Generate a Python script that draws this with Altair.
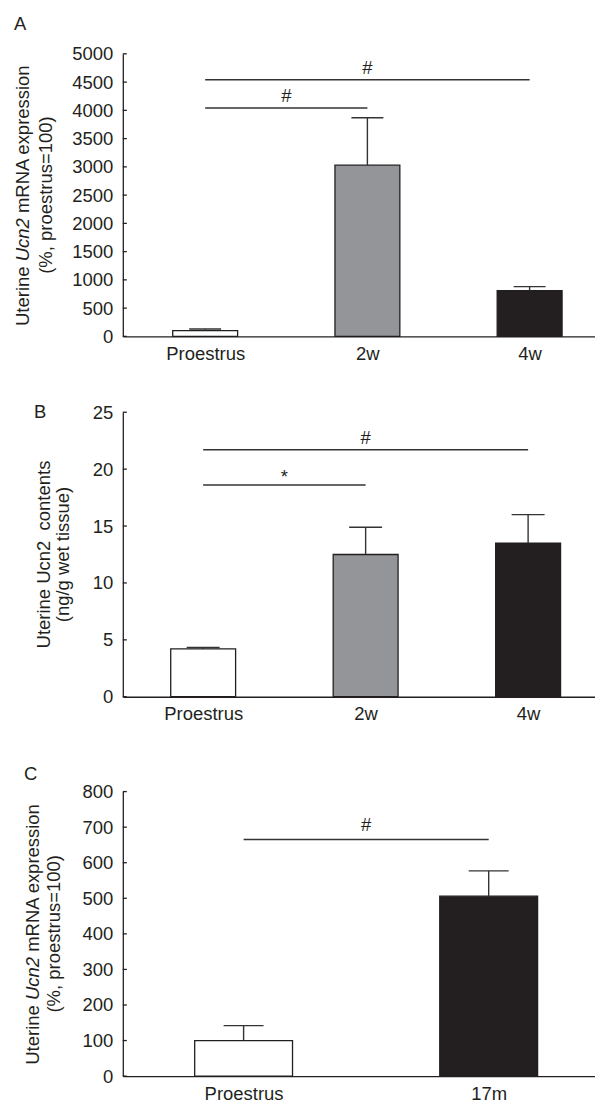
import json
import altair as alt
import pandas as pd

FONT = "Liberation Sans"
INK = "#231f20"
LINE = "#333333"
FS = 18.5
W = 473

# ---------------- data ----------------
# Panel A: uterine Ucn2 mRNA, proestrus vs 2w / 4w
a_categories = ["Proestrus", "2w", "4w"]
a_means = [100, 3030, 810]
a_sems = [30, 840, 70]
a_colors = ["#ffffff", "#939598", "#231f20"]
a_ticks = [0, 500, 1000, 1500, 2000, 2500, 3000, 3500, 4000, 4500, 5000]
a_sig_from = [0, 0]
a_sig_to = [1, 2]
a_sig_y = [4040, 4540]
a_sig_text = ["#", "#"]

# Panel B: uterine Ucn2 contents
b_categories = ["Proestrus", "2w", "4w"]
b_means = [4.2, 12.5, 13.5]
b_sems = [0.13, 2.4, 2.5]
b_colors = ["#ffffff", "#939598", "#231f20"]
b_ticks = [0, 5, 10, 15, 20, 25]
b_sig_from = [0, 0]
b_sig_to = [1, 2]
b_sig_y = [18.6, 21.7]
b_sig_text = ["*", "#"]

# Panel C: uterine Ucn2 mRNA, proestrus vs 17m
c_categories = ["Proestrus", "17m"]
c_means = [100, 506]
c_sems = [42, 71]
c_colors = ["#ffffff", "#231f20"]
c_ticks = [0, 100, 200, 300, 400, 500, 600, 700, 800]
c_sig_from = [0]
c_sig_to = [1]
c_sig_y = [665]
c_sig_text = ["#"]

# Arial / Liberation Sans advance widths (em) for title layout
EMW = {"U": 0.722, "t": 0.278, "e": 0.556, "r": 0.333, "i": 0.222, "n": 0.556,
       " ": 0.278, "c": 0.5, "2": 0.556, "m": 0.833, "R": 0.722, "N": 0.722,
       "A": 0.667, "x": 0.5, "p": 0.556, "o": 0.556, "s": 0.5}


def tw(s):
    return sum(EMW.get(ch, 0.556) for ch in s) * FS


def panel(cats, means, sems, colors, ticks, ymax, sig_from, sig_to, sig_y, sig_text,
          *, height, top_gap, xdom, bar_w, cap_w, letter, letter_pos,
          line1, line2, line1_x, line2_x, sig_dy):
    n = len(cats)
    bars_df = pd.DataFrame({
        "pos": list(range(n)), "cat": cats, "mean": means,
        "top": [m + s for m, s in zip(means, sems)], "color": colors,
    })
    sig_df = pd.DataFrame({"x1": sig_from, "x2": sig_to, "y": sig_y, "label": sig_text})
    sig_df["xm"] = (sig_df["x1"] + sig_df["x2"]) / 2
    tick_df = pd.DataFrame({"v": ticks})
    one = pd.DataFrame({"k": [0]})

    xs = alt.Scale(domain=xdom, nice=False, zero=False, padding=0)
    ys = alt.Scale(domain=[0, ymax], nice=False, zero=True, range=[height, top_gap])

    x_axis = alt.Axis(values=list(range(n)), labelExpr=json.dumps(cats) + "[datum.value]",
                      title=None, ticks=False, tickSize=0, grid=False, labelPadding=8,
                      domainColor=INK, domainWidth=1.3, labelFontSize=FS, labelColor=INK,
                      labelFont=FONT, labelFlush=False)
    y_axis = alt.Axis(values=ticks, format="d", title=None, ticks=False, tickSize=0,
                      grid=False, labelPadding=10, domainColor=INK, domainWidth=1.3,
                      labelFontSize=FS, labelColor=INK, labelFont=FONT)

    def X(f):
        return alt.X(f, scale=xs, axis=x_axis)

    def Y(f):
        return alt.Y(f, scale=ys, axis=y_axis)

    base = alt.Chart(bars_df)
    bars = base.mark_bar(orient="vertical", size=bar_w, stroke=INK, strokeWidth=1.3).encode(
        x=X("pos:Q"), y=Y("mean:Q"),
        color=alt.Color("color:N", scale=None),
    )
    err = base.mark_rule(color=LINE, strokeWidth=1.4).encode(
        x=X("pos:Q"), y=Y("mean:Q"), y2="top:Q",
    )
    cap = base.mark_rule(color=LINE, strokeWidth=1.4, xOffset=-cap_w / 2,
                         x2Offset=cap_w / 2).encode(
        x=X("pos:Q"), x2="pos:Q", y=Y("top:Q"),
    )
    tick_marks = alt.Chart(tick_df).mark_rule(color=INK, strokeWidth=1.3).encode(
        y=Y("v:Q"), x=alt.value(0), x2=alt.value(4),
    )
    sig_lines = alt.Chart(sig_df).mark_rule(color=LINE, strokeWidth=1.5).encode(
        x=X("x1:Q"), x2="x2:Q", y=Y("y:Q"),
    )
    sig_hash = alt.Chart(sig_df).transform_filter(alt.datum.label != "*").mark_text(
        dy=sig_dy, fontSize=FS, font=FONT, color=INK, baseline="alphabetic", align="center"
    ).encode(x=X("xm:Q"), y=Y("y:Q"), text="label:N")
    sig_star = alt.Chart(sig_df).transform_filter(alt.datum.label == "*").mark_text(
        dy=-2, fontSize=FS, font=FONT, color=INK, baseline="alphabetic", align="center"
    ).encode(x=X("xm:Q"), y=Y("y:Q"), text="label:N")
    letter_mark = alt.Chart(one).mark_text(
        align="left", baseline="alphabetic", fontSize=FS, font=FONT, color=INK
    ).encode(x=alt.value(letter_pos[0]), y=alt.value(letter_pos[1]), text=alt.value(letter))

    yc = top_gap + (height - top_gap) / 2
    full = "".join(t for t, _ in line1)
    start = yc + tw(full) / 2
    title_marks = []
    cum = 0.0
    for txt, style in line1:
        shown = txt.strip()
        lead = tw(txt) - tw(txt.lstrip())
        title_marks.append(
            alt.Chart(one).mark_text(angle=270, align="left", baseline="alphabetic",
                                     fontSize=FS, font=FONT, color=INK, fontStyle=style)
            .encode(x=alt.value(line1_x), y=alt.value(start - cum - lead), text=alt.value(shown))
        )
        cum += tw(txt)
    title_marks.append(
        alt.Chart(one).mark_text(angle=270, align="center", baseline="alphabetic",
                                 fontSize=FS, font=FONT, color=INK)
        .encode(x=alt.value(line2_x), y=alt.value(yc), text=alt.value(line2))
    )

    return alt.layer(bars, err, cap, tick_marks, sig_lines, sig_hash, sig_star,
                     letter_mark, *title_marks).properties(width=W, height=height)


pA = panel(a_categories, a_means, a_sems, a_colors, a_ticks, 5000,
           a_sig_from, a_sig_to, a_sig_y, a_sig_text,
           height=283, top_gap=0, xdom=[-0.5077, 2.403], bar_w=65, cap_w=32,
           letter="A", letter_pos=(-109, -24),
           line1=[("Uterine ", "normal"), ("Ucn2", "italic"), (" mRNA expression", "normal")],
           line2="(%, proestrus=100)", line1_x=-94, line2_x=-71, sig_dy=-6)

pB = panel(b_categories, b_means, b_sems, b_colors, b_ticks, 25,
           b_sig_from, b_sig_to, b_sig_y, b_sig_text,
           height=285, top_gap=0, xdom=[-0.4946, 2.4117], bar_w=65, cap_w=33,
           letter="B", letter_pos=(-89, 6),
           line1=[("Uterine Ucn2  ", "normal"), ("contents", "normal")],
           line2="(ng/g wet tissue)", line1_x=-73, line2_x=-54, sig_dy=-6)

pC = panel(c_categories, c_means, c_sems, c_colors, c_ticks, 800,
           c_sig_from, c_sig_to, c_sig_y, c_sig_text,
           height=304, top_gap=19, xdom=[-0.4929, 1.4338], bar_w=98, cap_w=40,
           letter="C", letter_pos=(-99, 7),
           line1=[("Uterine ", "normal"), ("Ucn2", "italic"), (" mRNA expression", "normal")],
           line2="(%, proestrus=100)", line1_x=-84, line2_x=-62.5, sig_dy=-9)

chart = alt.vconcat(pA, pB, pC, spacing=76, bounds="flush").properties(
    padding={"left": 5, "top": 6, "right": 0, "bottom": 0}
).configure(font=FONT).configure_view(stroke=None)

chart.save("out.html", embed_options={"renderer": "svg", "actions": False})
